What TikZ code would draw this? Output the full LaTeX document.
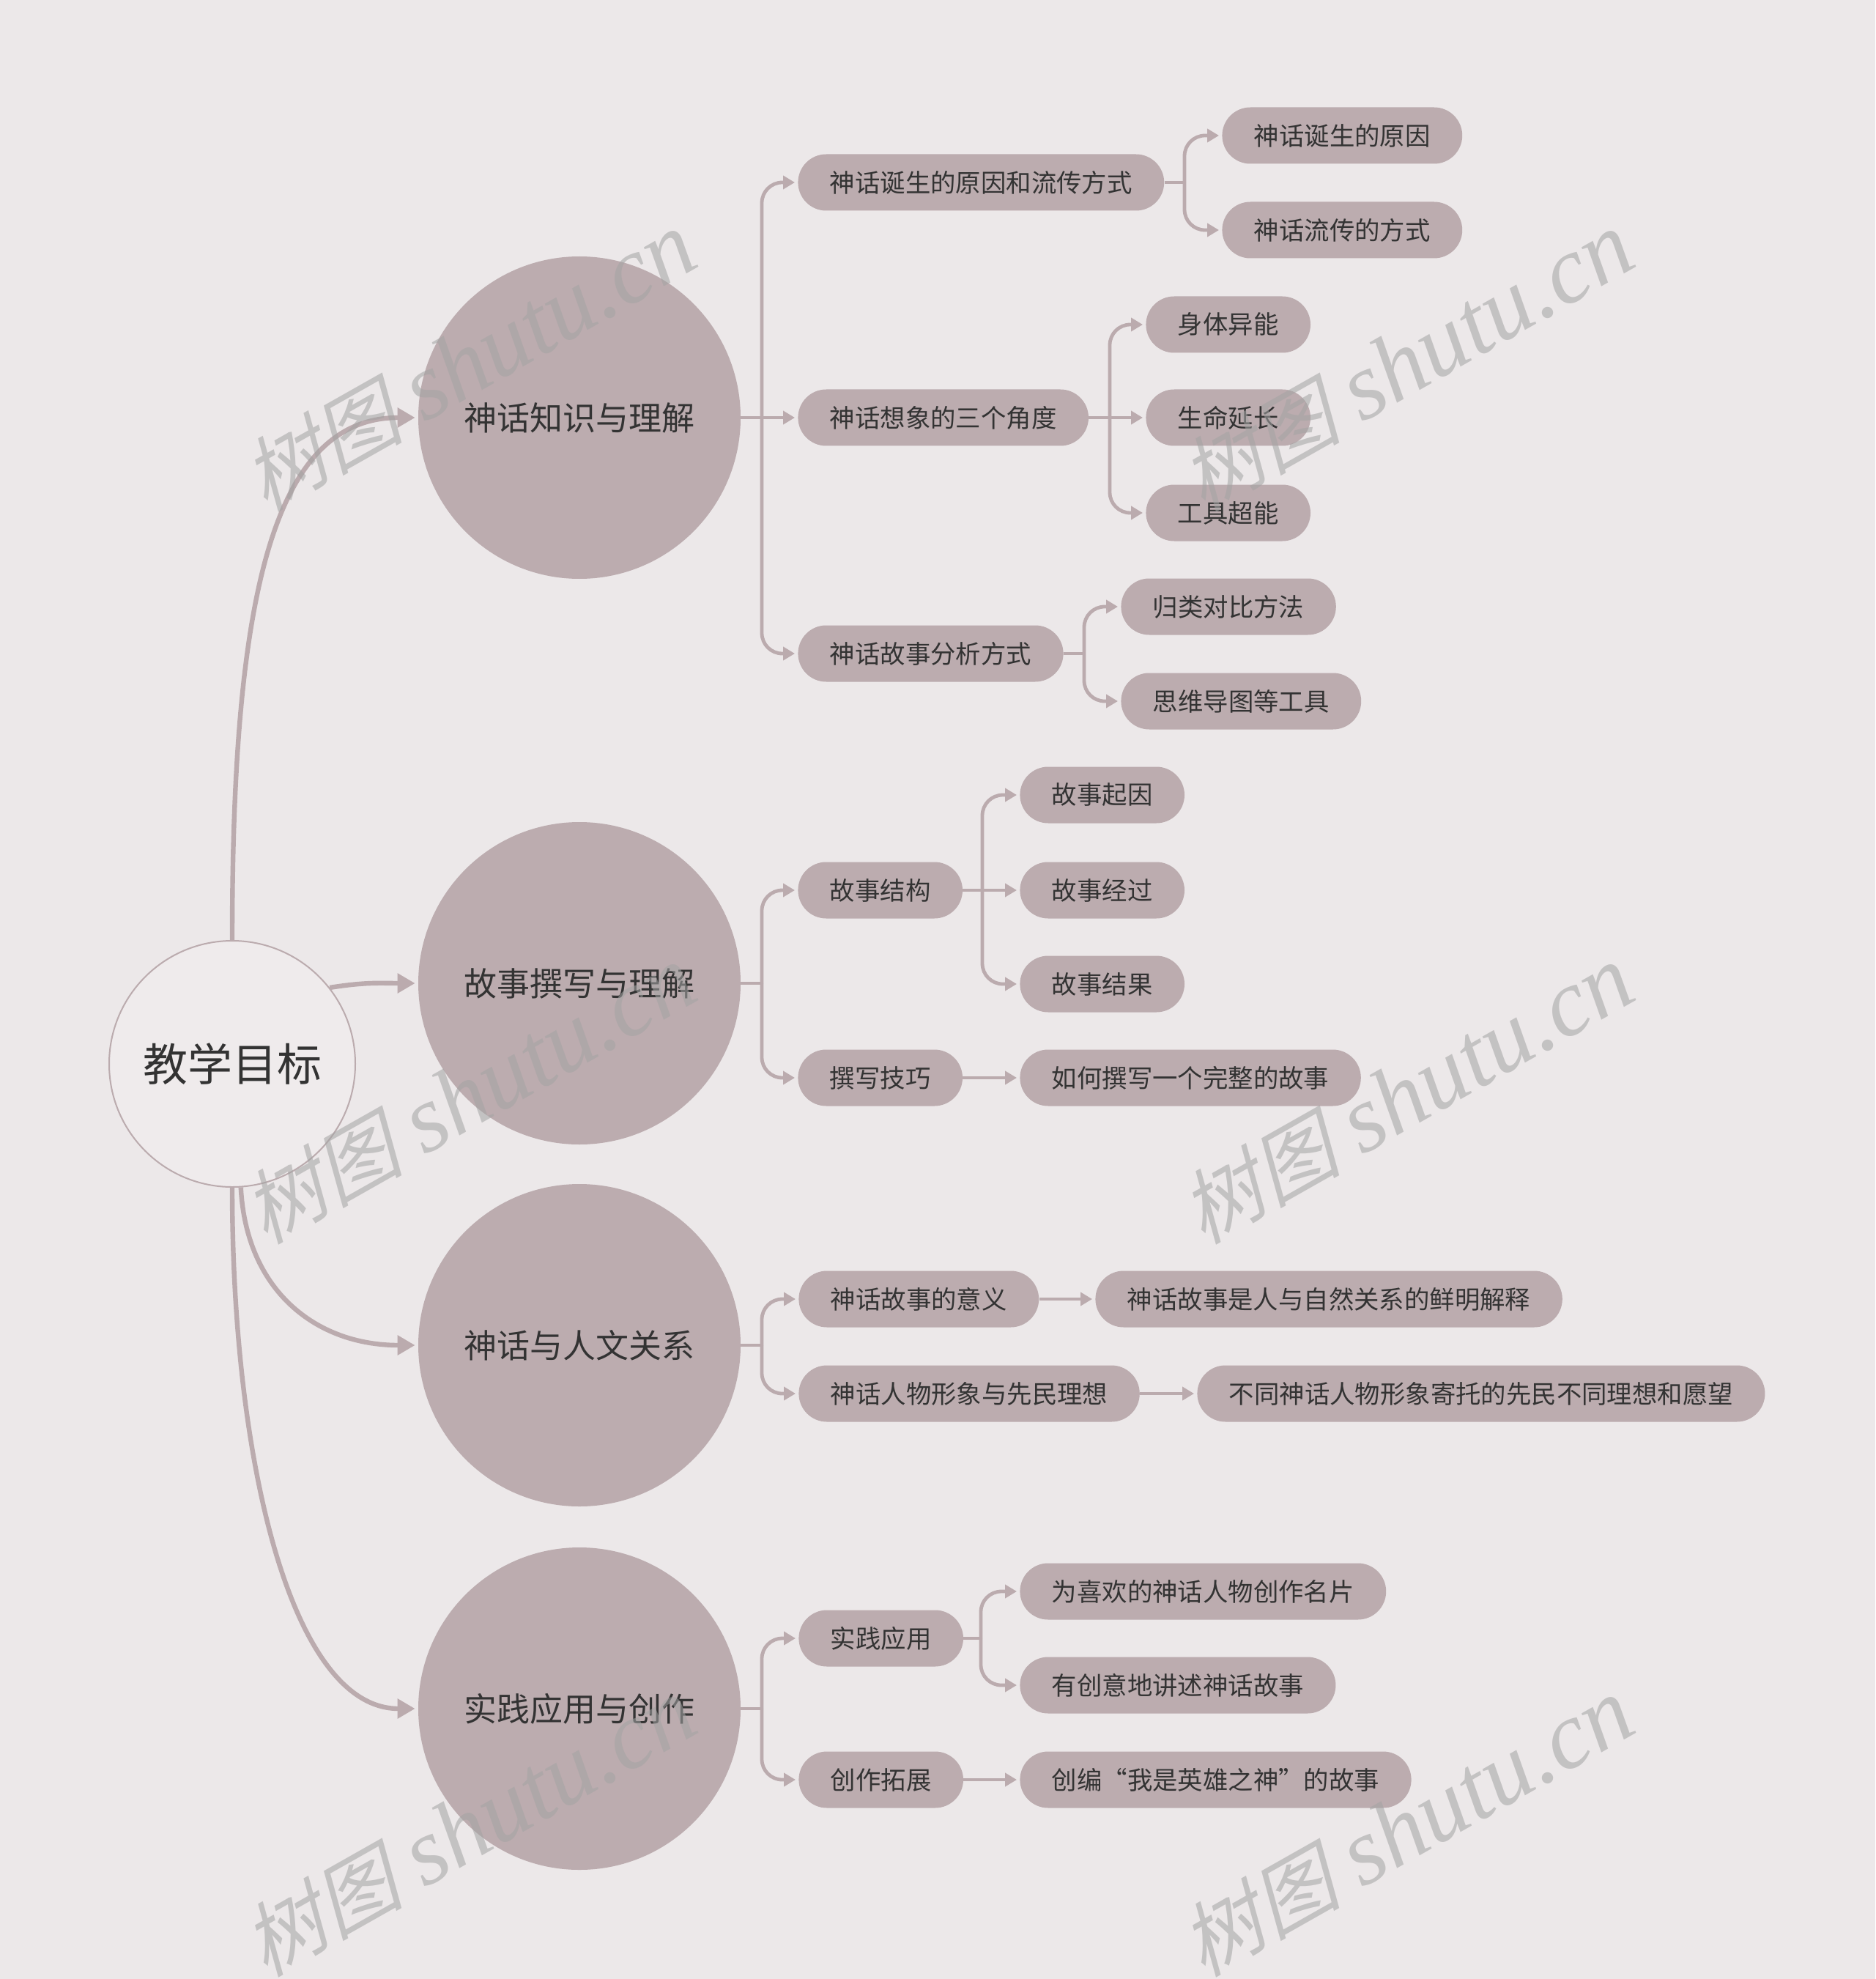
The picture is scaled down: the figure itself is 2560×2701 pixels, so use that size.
\documentclass[tikz,border=0pt]{standalone}
\usepackage{fontspec}
\setmainfont{Noto Sans CJK SC}
\newfontfamily\wmcjk{Noto Sans CJK SC}[FakeSlant=0.25]
\newfontfamily\wmlat{Liberation Serif}
\usetikzlibrary{arrows.meta}
\definecolor{bgc}{HTML}{ECE8E9}
\definecolor{nodec}{HTML}{BCACAF}
\definecolor{linec}{HTML}{BBABAE}
\definecolor{txtc}{HTML}{333333}
\definecolor{rootfill}{HTML}{EFEBEC}
\definecolor{wmc}{HTML}{A3A3A3}
\newcommand{\wmtext}{{\fontsize{55pt}{60pt}\selectfont\wmcjk 树图} {\wmlat\itshape shutu.cn}}
\begin{document}
\begin{tikzpicture}[x=0.5pt,y=-0.5pt,
  pill/.style={draw=none, fill=nodec, rounded corners=19.25pt, minimum height=38.5pt, inner xsep=21.75pt, inner ysep=0pt, font=\fontsize{17.2pt}{20pt}\selectfont, text=txtc, anchor=west},
  bigc/.style={circle, fill=nodec, minimum size=220pt, inner sep=0pt, font=\fontsize{22.5pt}{26pt}\selectfont, text=txtc},
  rootc/.style={circle, fill=rootfill, draw=linec, line width=1pt, minimum size=168pt, inner sep=0pt, font=\fontsize{30.5pt}{34pt}\selectfont, text=txtc},
  mainarr/.style={draw=linec, line width=3.2pt, -{Triangle[length=12pt,width=13pt]}, shorten >=2pt},
  brarr/.style={draw=linec, line width=2.4pt, rounded corners=14pt, -{Triangle[length=8pt,width=9pt]}, shorten >=2pt},
  brline/.style={draw=linec, line width=2.4pt},
  wm/.style={text=wmc, text opacity=0.55, rotate=29.5, anchor=base west, font=\fontsize{65pt}{70pt}\selectfont, inner sep=0pt}
]
\fill[bgc] (0,0) rectangle (2560,2701);
\useasboundingbox (0,0) rectangle (2560,2701);

% root and level 1
\node[rootc] (root) at (317,1452) {教学目标};
\node[bigc] (c1) at (791,570) {神话知识与理解};
\node[bigc] (c2) at (791,1342) {故事撰写与理解};
\node[bigc] (c3) at (791,1836) {神话与人文关系};
\node[bigc] (c4) at (791,2332) {实践应用与创作};

% level 2 and 3
\node[pill] (A1) at (1089,249) {神话诞生的原因和流传方式};
\node[pill] (A2) at (1089,570) {神话想象的三个角度};
\node[pill] (A3) at (1089,892) {神话故事分析方式};
\node[pill] (A11) at (1668,185) {神话诞生的原因};
\node[pill] (A12) at (1668,314) {神话流传的方式};
\node[pill] (A21) at (1564,443) {身体异能};
\node[pill] (A22) at (1564,570) {生命延长};
\node[pill] (A23) at (1564,700) {工具超能};
\node[pill] (A31) at (1530,828) {归类对比方法};
\node[pill] (A32) at (1530,957) {思维导图等工具};

\node[pill] (B1) at (1089,1215) {故事结构};
\node[pill] (B2) at (1089,1471) {撰写技巧};
\node[pill] (B11) at (1392,1085) {故事起因};
\node[pill] (B12) at (1392,1215) {故事经过};
\node[pill] (B13) at (1392,1343) {故事结果};
\node[pill] (B21) at (1392,1471) {如何撰写一个完整的故事};

\node[pill] (C1) at (1090,1773) {神话故事的意义};
\node[pill] (C2) at (1090,1902) {神话人物形象与先民理想};
\node[pill] (C11) at (1495,1773) {神话故事是人与自然关系的鲜明解释};
\node[pill] (C21) at (1634,1902) {不同神话人物形象寄托的先民不同理想和愿望};

\node[pill] (D1) at (1090,2236) {实践应用};
\node[pill] (D2) at (1090,2429) {创作拓展};
\node[pill] (D11) at (1392,2172) {为喜欢的神话人物创作名片};
\node[pill] (D12) at (1392,2300) {有创意地讲述神话故事};
\node[pill] (D21) at (1392,2429) {创编“我是英雄之神”的故事};

% root connectors
\draw[mainarr] (root.north) .. controls +(0,-463) and +(-200,0) .. (c1.west);
\draw[mainarr] (root.38) .. controls +(50,-8) and +(-50,0) .. (c2.west);
\draw[mainarr] (root.-86) .. controls +(7,140) and +(-140,0) .. (c3.west);
\draw[mainarr] (root.-90) .. controls +(0,380) and +(-171,0) .. (c4.west);

% junctions
\coordinate (j1) at (1040,570);
\coordinate (j2) at (1040,1342);
\coordinate (j3) at (1040,1836);
\coordinate (j4) at (1040,2332);
\coordinate (jA1) at (1617,249);
\coordinate (jA2) at (1515,570);
\coordinate (jA3) at (1480,892);
\coordinate (jB1) at (1341,1215);
\coordinate (jD1) at (1339,2236);

% level 1 -> level 2
\draw[brline] (c1.east) -- (j1);
\draw[brarr] (j1) |- (A1.west);
\draw[brarr] (j1) -- (A2.west);
\draw[brarr] (j1) |- (A3.west);
\draw[brline] (c2.east) -- (j2);
\draw[brarr] (j2) |- (B1.west);
\draw[brarr] (j2) |- (B2.west);
\draw[brline] (c3.east) -- (j3);
\draw[brarr] (j3) |- (C1.west);
\draw[brarr] (j3) |- (C2.west);
\draw[brline] (c4.east) -- (j4);
\draw[brarr] (j4) |- (D1.west);
\draw[brarr] (j4) |- (D2.west);

% level 2 -> level 3
\draw[brline] (A1.east) -- (jA1);
\draw[brarr] (jA1) |- (A11.west);
\draw[brarr] (jA1) |- (A12.west);
\draw[brline] (A2.east) -- (jA2);
\draw[brarr] (jA2) |- (A21.west);
\draw[brarr] (jA2) -- (A22.west);
\draw[brarr] (jA2) |- (A23.west);
\draw[brline] (A3.east) -- (jA3);
\draw[brarr] (jA3) |- (A31.west);
\draw[brarr] (jA3) |- (A32.west);
\draw[brline] (B1.east) -- (jB1);
\draw[brarr] (jB1) |- (B11.west);
\draw[brarr] (jB1) -- (B12.west);
\draw[brarr] (jB1) |- (B13.west);
\draw[brarr] (B2.east) -- (B21.west);
\draw[brarr] (C1.east) -- (C11.west);
\draw[brarr] (C2.east) -- (C21.west);
\draw[brline] (D1.east) -- (jD1);
\draw[brarr] (jD1) |- (D11.west);
\draw[brarr] (jD1) |- (D12.west);
\draw[brarr] (D2.east) -- (D21.west);

% watermarks
\node[wm] (w1) at (362,700) {\wmtext};
\node[wm] (w2) at (1642,700) {\wmtext};
\node[wm] (w3) at (362,1700) {\wmtext};
\node[wm] (w4) at (1642,1700) {\wmtext};
\node[wm] (w5) at (362,2700) {\wmtext};
\node[wm] (w6) at (1642,2700) {\wmtext};
\end{tikzpicture}
\end{document}
